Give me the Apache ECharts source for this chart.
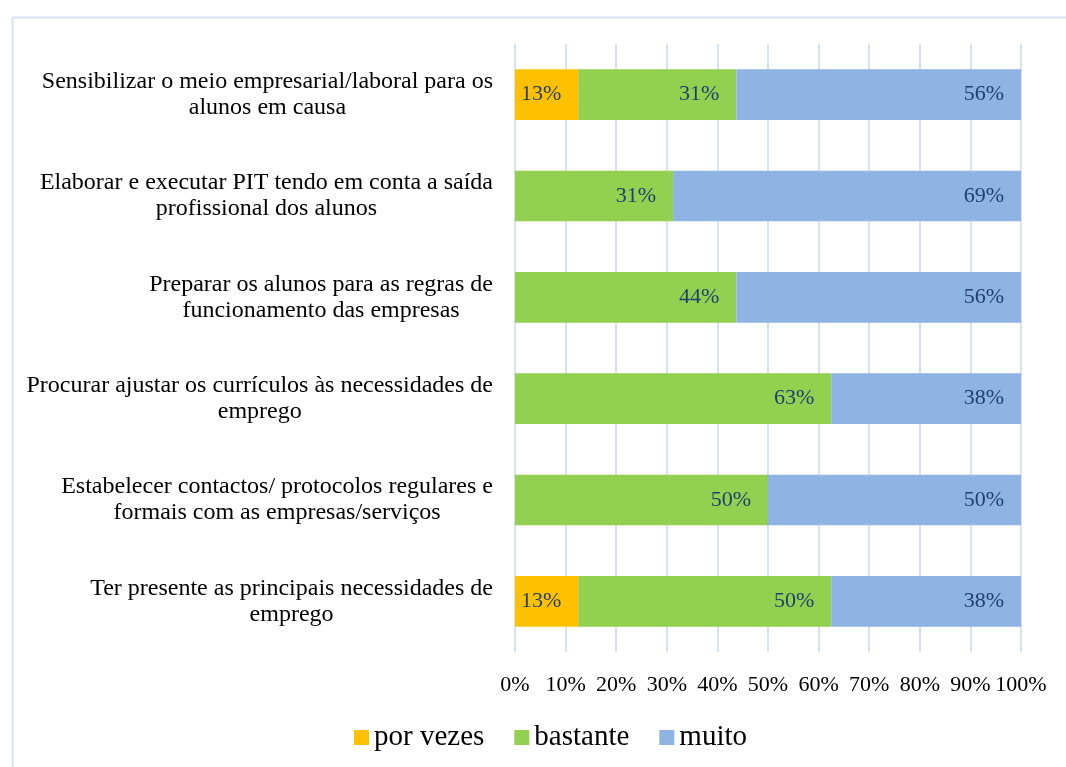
<!DOCTYPE html>
<html>
<head>
<meta charset="utf-8">
<script src="https://cdn.jsdelivr.net/npm/echarts@6/dist/echarts.min.js"></script>
<style>
  html, body { margin: 0; padding: 0; background: #fff; }
  #chart { width: 1066px; height: 767px; }
</style>
</head>
<body>
<div id="chart"></div>
<script>
// categories top to bottom (line breaks as in the original)
const categories = [
  "Sensibilizar o meio empresarial/laboral para os\nalunos em causa",
  "Elaborar e executar PIT tendo em conta a saída\nprofissional dos alunos",
  "Preparar os alunos para as regras de\nfuncionamento das empresas",
  "Procurar ajustar os currículos às necessidades de\nemprego",
  "Estabelecer contactos/ protocolos regulares e\nformais com as empresas/serviços",
  "Ter presente as principais necessidades de\nemprego"
];
const porVezes = [12.5, 0, 0, 0, 0, 12.5];
const bastante = [31.25, 31.25, 43.75, 62.5, 50, 50];
const muito = [56.25, 68.75, 56.25, 37.5, 50, 37.5];
const xTicks = [0, 10, 20, 30, 40, 50, 60, 70, 80, 90, 100];

const font = "'Liberation Serif', 'Times New Roman', serif";
const labelColor = "#223f70";

function seriesOf(name, data, color) {
  return {
    name, type: "bar", stack: "total", data,
    barCategoryGap: "50%",
    itemStyle: { color },
    label: {
      show: true,
      position: "insideRight",
      distance: 17,
      fontFamily: font,
      fontSize: 22,
      color: labelColor,
      formatter: p => (p.value > 0 ? Math.round(p.value) + "%" : "")
    },
    emphasis: { disabled: true }
  };
}

const chart = echarts.init(document.getElementById("chart"));
chart.setOption({
  animation: false,
  graphic: [{
    type: "rect", left: 10, top: 15,
    shape: { width: 1200, height: 900 },
    style: { fill: "none", stroke: "#D9E2F3", lineWidth: 2 }
  }],
  grid: { left: 515, right: 45, top: 44, bottom: 115 },
  xAxis: {
    type: "value", min: 0, max: 100, interval: 10,
    axisLine: { show: false },
    axisTick: { show: false },
    splitLine: { lineStyle: { color: "#D6E1F3", width: 2 } },
    axisLabel: {
      margin: 22,
      fontFamily: font, fontSize: 22, color: "#000",
      formatter: v => (xTicks.includes(v) ? v + "%" : "")
    }
  },
  yAxis: {
    type: "category", data: categories, inverse: true,
    axisLine: { show: false },
    axisTick: { show: false },
    axisLabel: {
      margin: 22,
      align: "right",
      formatter: v => v.split("\n").map(s => "{c|" + s + "}").join("\n"),
      rich: {
        c: { align: "center", fontFamily: font, fontSize: 24, lineHeight: 26, color: "#000" }
      }
    }
  },
  legend: {
    top: 718, left: 349,
    itemWidth: 15, itemHeight: 15, itemGap: 30,
    icon: "rect",
    textStyle: { fontFamily: font, fontSize: 29, color: "#000" },
    data: ["por vezes", "bastante", "muito"]
  },
  series: [
    seriesOf("por vezes", porVezes, "#FFC000"),
    seriesOf("bastante", bastante, "#92D050"),
    seriesOf("muito", muito, "#8EB4E3")
  ]
});
</script>
</body>
</html>
